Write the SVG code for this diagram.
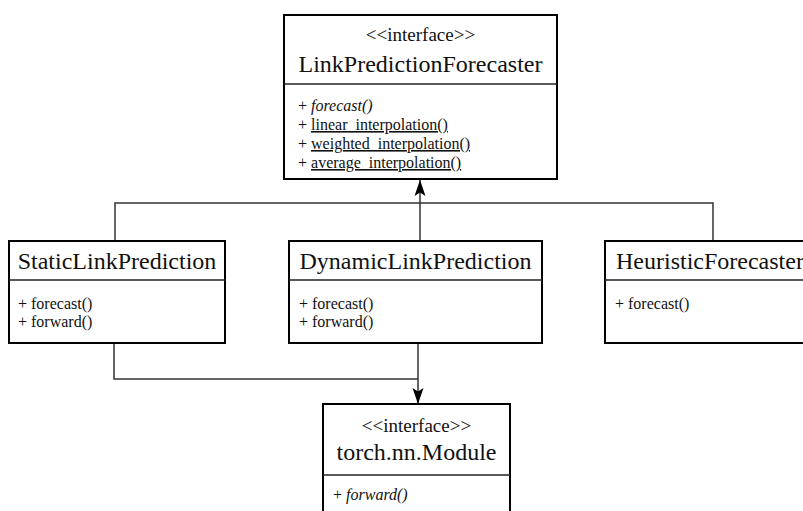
<svg xmlns="http://www.w3.org/2000/svg" width="803" height="511" viewBox="0 0 803 511" font-family="'Liberation Serif', 'Times New Roman', Times, 'DejaVu Serif', serif">
  <defs>
    <marker id="arrow" viewBox="-17 -7 18 14" refX="0" refY="0" markerWidth="18" markerHeight="14" markerUnits="userSpaceOnUse" orient="auto">
      <path d="M0,0 L-16,-5.5 L-12.5,0 L-16,5.5 Z" fill="#000"/>
    </marker>
    <style>
      .box { fill: #fff; stroke: #000; stroke-width: 2; }
      .div { stroke: #222; stroke-width: 1.6; }
      .conn { fill: none; stroke: #333; stroke-width: 1.5; }
      text { font-family: 'Liberation Serif', 'Times New Roman', Times, 'DejaVu Serif', serif; fill: #111; }
      .stereo { font-size: 19px; text-anchor: middle; }
      .title { font-size: 24px; }
      .center { text-anchor: middle; }
      .member { font-size: 16px; }
      .abstract { font-style: italic; }
      .static { text-decoration: underline; }
    </style>
  </defs>

  <!-- inheritance / usage connectors -->
  <g id="connectors">
    <path class="conn" d="M115,241 V203 H713 V241"/>
    <path class="conn" d="M420,241 V180" marker-end="url(#arrow)"/>
    <path class="conn" d="M114,343 V379 H418"/>
    <path class="conn" d="M418,343 V404" marker-end="url(#arrow)"/>
  </g>

  <g id="LinkPredictionForecaster">
    <rect class="box" x="284" y="15" width="273" height="164"/>
    <line class="div" x1="284" y1="84" x2="557" y2="84"/>
    <text class="stereo" x="420.5" y="41">&lt;&lt;interface&gt;&gt;</text>
    <text class="title center" x="420.5" y="72">LinkPredictionForecaster</text>
    <text class="member" x="298" y="111">+ <tspan class="abstract">forecast()</tspan></text>
    <text class="member" x="298" y="130">+ <tspan class="static">linear_interpolation()</tspan></text>
    <text class="member" x="298" y="149">+ <tspan class="static">weighted_interpolation()</tspan></text>
    <text class="member" x="298" y="168">+ <tspan class="static">average_interpolation()</tspan></text>
  </g>

  <g id="StaticLinkPrediction">
    <rect class="box" x="9" y="241" width="216" height="102"/>
    <line class="div" x1="9" y1="280" x2="225" y2="280"/>
    <text class="title center" x="117" y="269">StaticLinkPrediction</text>
    <text class="member" x="18" y="309">+ forecast()</text>
    <text class="member" x="18" y="327">+ forward()</text>
  </g>

  <g id="DynamicLinkPrediction">
    <rect class="box" x="289" y="241" width="253" height="102"/>
    <line class="div" x1="289" y1="280" x2="542" y2="280"/>
    <text class="title center" x="415.5" y="269">DynamicLinkPrediction</text>
    <text class="member" x="299" y="309">+ forecast()</text>
    <text class="member" x="299" y="327">+ forward()</text>
  </g>

  <g id="HeuristicForecaster">
    <rect class="box" x="605" y="241" width="216" height="102"/>
    <line class="div" x1="605" y1="280" x2="821" y2="280"/>
    <text class="title" x="616" y="269">HeuristicForecaster</text>
    <text class="member" x="615" y="309">+ forecast()</text>
  </g>

  <g id="torch_nn_Module">
    <rect class="box" x="323" y="404" width="187" height="120"/>
    <line class="div" x1="323" y1="475" x2="510" y2="475"/>
    <text class="stereo" x="416.5" y="432">&lt;&lt;interface&gt;&gt;</text>
    <text class="title center" x="416.5" y="460">torch.nn.Module</text>
    <text class="member" x="333" y="500">+ <tspan class="abstract">forward()</tspan></text>
  </g>
</svg>
